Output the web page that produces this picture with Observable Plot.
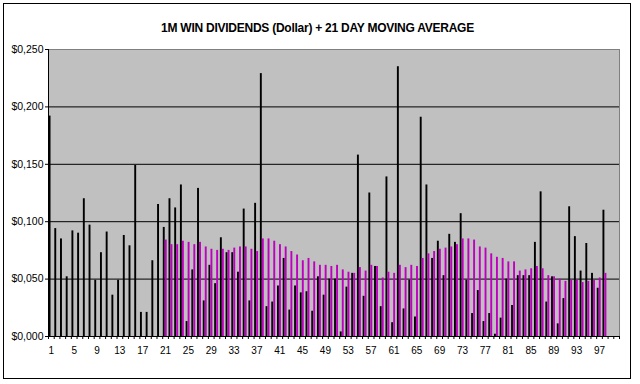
<!DOCTYPE html>
<html>
<head>
<meta charset="utf-8">
<script src="https://cdn.jsdelivr.net/npm/d3@7"></script>
<script src="https://cdn.jsdelivr.net/npm/@observablehq/plot@0.6"></script>
<style>
  html, body { margin: 0; padding: 0; background: #fff; }
  #wrap { position: relative; width: 640px; height: 384px; overflow: hidden; background: #fff; }
  #border { position: absolute; left: 3px; top: 3px; width: 628px; height: 376px; border: 1px solid #000; box-sizing: border-box; }
  #title { position: absolute; left: 3px; width: 629px; top: 21px; text-align: center;
           font-family: "Liberation Sans", Arial, sans-serif; font-weight: bold; font-size: 12px;
           letter-spacing: -0.25px; color: #000; }
  #chart { position: absolute; left: 0; top: 0; }
</style>
</head>
<body>
<div id="wrap">
  <div id="border"></div>
  <div id="chart"></div>
  <div id="title">1M WIN DIVIDENDS (Dollar) + 21 DAY MOVING AVERAGE</div>
</div>
<script>
// Daily 1M WIN dividends, days 1..98
const days = d3.range(1, 99);
const win = [
  0.192, 0.094, 0.085, 0.052, 0.092, 0.090, 0.120, 0.097, 0.049, 0.073,
  0.091, 0.036, 0.049, 0.088, 0.079, 0.149, 0.021, 0.021, 0.066, 0.115,
  0.095, 0.120, 0.112, 0.132, 0.013, 0.058, 0.129, 0.031, 0.062, 0.046,
  0.086, 0.073, 0.073, 0.056, 0.111, 0.031, 0.116, 0.229, 0.026, 0.030,
  0.044, 0.068, 0.023, 0.044, 0.038, 0.039, 0.022, 0.052, 0.036, 0.050,
  0.050, 0.004, 0.043, 0.055, 0.158, 0.035, 0.125, 0.061, 0.026, 0.139,
  0.012, 0.235, 0.024, 0.049, 0.017, 0.191, 0.132, 0.068, 0.083, 0.053,
  0.089, 0.082, 0.107, 0.049, 0.020, 0.040, 0.013, 0.020, 0.002, 0.016,
  0.050, 0.027, 0.053, 0.053, 0.053, 0.082, 0.126, 0.030, 0.052, 0.011,
  0.033, 0.113, 0.087, 0.057, 0.081, 0.055, 0.042, 0.110
];
// 21 day moving average, days 21..98
const maDays = d3.range(21, 99);
const ma = [
  0.084, 0.080, 0.080, 0.083, 0.082, 0.080, 0.082, 0.078, 0.076, 0.075,
  0.076, 0.075, 0.077, 0.078, 0.078, 0.076, 0.074, 0.085, 0.085, 0.083,
  0.080, 0.078, 0.074, 0.071, 0.066, 0.068, 0.065, 0.062, 0.062, 0.061,
  0.062, 0.058, 0.056, 0.055, 0.060, 0.057, 0.062, 0.061, 0.051, 0.056,
  0.055, 0.062, 0.060, 0.062, 0.061, 0.068, 0.072, 0.074, 0.076, 0.077,
  0.078, 0.080, 0.085, 0.085, 0.084, 0.078, 0.077, 0.072, 0.069, 0.068,
  0.065, 0.065, 0.057, 0.058, 0.059, 0.061, 0.059, 0.053, 0.052, 0.050,
  0.048, 0.049, 0.049, 0.047, 0.048, 0.049, 0.051, 0.055
];
const nCats = 100;
const xLabels = d3.range(1, 98, 4);
const yTicks = [0, 0.05, 0.10, 0.15, 0.20, 0.25];
const gridLines = [0.05, 0.10, 0.15, 0.20];

const winData = days.map((d, i) => ({day: d, value: win[i]}));
const maData = maDays.map((d, i) => ({day: d, value: ma[i]}));
const boundaries = d3.range(0.5, nCats + 1, 1);
const fmt = v => "$" + v.toFixed(3).replace(".", ",");

const chart = Plot.plot({
  width: 640,
  height: 384,
  marginLeft: 48,
  marginRight: 21,
  marginTop: 49,
  marginBottom: 48,
  x: {type: "linear", domain: [0.5, nCats + 0.5], label: null},
  y: {domain: [0, 0.25], label: null},
  style: {fontFamily: "'Liberation Sans', Arial, sans-serif", fontSize: "10px", color: "#000", background: "transparent", overflow: "visible"},
  marks: [
    Plot.frame({fill: "#c0c0c0", stroke: "#808080"}),
    Plot.ruleY(gridLines, {stroke: "#000", strokeWidth: 1}),
    Plot.rectY(winData, {x1: d => d.day - 0.5, x2: d => d.day + 0.5, y: "value", fill: "#000", insetLeft: 0.6, insetRight: 3.2}),
    Plot.rectY(maData, {x1: d => d.day - 0.5, x2: d => d.day + 0.5, y: "value", fill: "#c000c0", insetLeft: 2.6, insetRight: 1.2}),
    Plot.ruleY([0], {stroke: "#000"}),
    Plot.ruleX([0.5], {stroke: "#000"}),
    Plot.axisY(yTicks, {tickSize: 3, tickPadding: 2, tickFormat: fmt, stroke: "#000", fontSize: 10.5, label: null}),
    Plot.axisX(xLabels, {tickSize: 0, tickPadding: 10, tickFormat: d => String(d), label: null}),
    Plot.axisX(boundaries, {tickSize: 3, tickFormat: () => "", stroke: "#000", label: null})
  ]
});
document.getElementById("chart").appendChild(chart);
</script>
</body>
</html>
